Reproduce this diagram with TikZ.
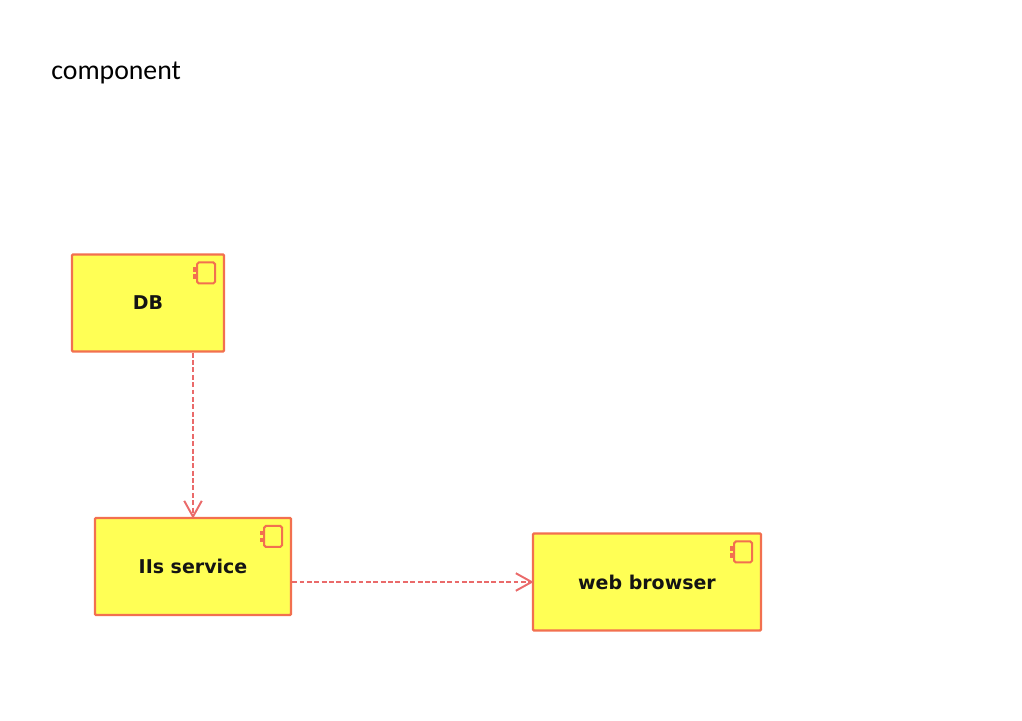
\documentclass[tikz,border=0pt]{standalone}
\usepackage{fontspec}
\setmainfont{Carlito}
\newfontfamily\boxfont{DejaVu Sans}
\usepackage{tikz}
\usetikzlibrary{
    arrows.meta,
    calc
}
\definecolor{compline}{HTML}{F2704F}
\definecolor{compfill}{HTML}{FFFF55}
\definecolor{deplines}{HTML}{EA6A6A}
\tikzset{
    compbox/.style={draw=compline, fill=compfill, line width=1.3pt, rounded corners=0.6pt,
        minimum height=1.94cm, inner sep=0pt, font=\boxfont\bfseries\fontsize{10.8}{13}\selectfont, text=black!92},
    compicon/.style={draw=compline, line width=1.2pt, rounded corners=1pt, fill=compfill,
        minimum width=0.36cm, minimum height=0.42cm, inner sep=0pt, anchor=north east},
    comptab/.style={draw=compline, line width=0.6pt, fill=compline, minimum width=0.07cm,
        minimum height=0.07cm, inner sep=0pt},
    deparrow/.style={draw=deplines, line width=1.5pt, dash pattern=on 2.8pt off 1.4pt, shorten >=-1pt,
        -{Straight Barb[length=9pt, width=10pt, line width=1.1pt]}}
}
\begin{document}
\begin{tikzpicture}
    \useasboundingbox (0,0) rectangle (20.44,14.4);

    \node[anchor=west, inner sep=0pt, font=\fontsize{15.8}{19}\selectfont] (title) at (1.02,12.95) {component};

    \node[compbox, minimum width=3.04cm] (db) at (2.96,8.34) {DB};
    \node[compbox, minimum width=3.92cm] (iis) at (3.86,3.07) {IIs service};
    \node[compbox, minimum width=4.56cm] (web) at (12.94,2.76) {web browser};

    \foreach \name in {db,iis,web} {
        \node[compicon] (\name icon) at ($(\name.north east)+(-0.18,-0.16)$) {};
        \node[comptab] (\name taba) at ($(\name icon.west)+(-0.01,0.07)$) {};
        \node[comptab] (\name tabb) at ($(\name icon.west)+(-0.01,-0.07)$) {};
    }

    \draw[deparrow] (iis.north |- db.south) -- (iis.north);
    \draw[deparrow] (iis.east |- web.west) -- (web.west);
\end{tikzpicture}
\end{document}
